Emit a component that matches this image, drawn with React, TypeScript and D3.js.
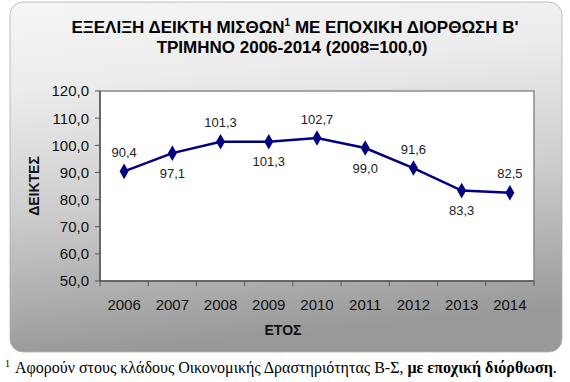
import React from "react";
import * as d3 from "d3";

const years = ["2006", "2007", "2008", "2009", "2010", "2011", "2012", "2013", "2014"];
const values = [90.4, 97.1, 101.3, 101.3, 102.7, 99.0, 91.6, 83.3, 82.5];
const labelAbove = [true, false, true, false, true, false, true, false, true];
const yTicks = [50, 60, 70, 80, 90, 100, 110, 120];

const W = 570;
const H = 382;
const plot = { left: 100, top: 91, right: 534, bottom: 281 };

export default function App() {
  const x = d3.scaleBand<string>().domain(years).range([plot.left, plot.right]).padding(0);
  const y = d3.scaleLinear().domain([50, 120]).range([plot.bottom, plot.top]);
  const cx = (d: string) => (x(d) as number) + x.bandwidth() / 2;
  const line = d3
    .line<number>()
    .x((_, i) => cx(years[i]))
    .y((v) => y(v));
  const diamond = d3.symbol().type(d3.symbolDiamond).size(70)() as string;
  const fmt = (v: number) => v.toFixed(1).replace(".", ",");
  const boundaries = years.map((d) => x(d) as number).concat([plot.right]);

  return (
    <svg
      width={W}
      height={H}
      style={{ position: "absolute", left: 0, top: 0, background: "#fff" }}
      fontFamily="Liberation Sans, Arial, sans-serif"
    >
      <defs>
        <linearGradient id="bg" x1="0" y1="0" x2="0.15" y2="1">
          <stop offset="0" stopColor="#f5f5f5" />
          <stop offset="0.25" stopColor="#ececec" />
          <stop offset="0.6" stopColor="#cdcdcd" />
          <stop offset="1" stopColor="#999999" />
        </linearGradient>
      </defs>
      <rect x={10} y={2} width={552} height={350} rx={13} ry={13} fill="url(#bg)" stroke="#b0b0b0" strokeWidth={0.8} />
      <text x={295} y={33} textAnchor="middle" fontSize={17} fontWeight="bold" fill="#000">
        ΕΞΕΛΙΞΗ ΔΕΙΚΤΗ ΜΙΣΘΩΝ<tspan fontSize={10} dy={-7}>1</tspan>
        <tspan dy={7}> ΜΕ ΕΠΟΧΙΚΗ ΔΙΟΡΘΩΣΗ  Β'</tspan>
      </text>
      <text x={292} y={53} textAnchor="middle" fontSize={17} fontWeight="bold" fill="#000">
        ΤΡΙΜΗΝΟ 2006-2014 (2008=100,0)
      </text>

      <rect
        x={plot.left}
        y={plot.top}
        width={plot.right - plot.left}
        height={plot.bottom - plot.top}
        fill="#fff"
        stroke="#8a8a8a"
        strokeWidth={1.5}
      />
      <line x1={plot.left} x2={plot.left} y1={plot.top} y2={plot.bottom} stroke="#555" strokeWidth={1.5} />
      <line x1={plot.left} x2={plot.right} y1={plot.bottom} y2={plot.bottom} stroke="#555" strokeWidth={1.5} />

      {yTicks.map((t) => (
        <g key={t}>
          <line x1={plot.left - 5} x2={plot.left} y1={y(t)} y2={y(t)} stroke="#555" strokeWidth={1} />
          <text x={plot.left - 11} y={y(t)} dy="0.36em" textAnchor="end" fontSize={15} fill="#111">
            {fmt(t)}
          </text>
        </g>
      ))}
      {boundaries.map((b, i) => (
        <line key={i} x1={b} x2={b} y1={plot.bottom} y2={plot.bottom + 5} stroke="#555" strokeWidth={1} />
      ))}
      {years.map((d) => (
        <text key={d} x={cx(d)} y={305} dy="0.36em" textAnchor="middle" fontSize={15} fill="#111">
          {d}
        </text>
      ))}
      <text x={283} y={330} dy="0.36em" textAnchor="middle" fontSize={14} fontWeight="bold" fill="#111">
        ΕΤΟΣ
      </text>
      <text
        transform={`translate(34,${(plot.top + plot.bottom) / 2}) rotate(-90)`}
        dy="0.36em"
        textAnchor="middle"
        fontSize={14}
        fontWeight="bold"
        fill="#111"
      >
        ΔΕΙΚΤΕΣ
      </text>

      <path d={line(values) as string} fill="none" stroke="#000080" strokeWidth={2.5} />
      {values.map((v, i) => (
        <path key={i} d={diamond} transform={`translate(${cx(years[i])},${y(v)})`} fill="#000080" />
      ))}
      {values.map((v, i) => (
        <text
          key={"l" + i}
          x={cx(years[i])}
          y={y(v) + (labelAbove[i] ? -19 : 20)}
          dy="0.36em"
          textAnchor="middle"
          fontSize={13}
          fill="#222"
        >
          {fmt(v)}
        </text>
      ))}

      <text x={5} y={373} fontFamily="Liberation Serif, Times New Roman, serif" fontSize={16} fill="#000">
        <tspan fontSize={10} dy={-6}>1</tspan>
        <tspan dy={6} dx={5}>Αφορούν στους κλάδους Οικονομικής Δραστηριότητας Β-Σ, </tspan>
        <tspan fontWeight="bold">με εποχική διόρθωση</tspan>
        <tspan>.</tspan>
      </text>
    </svg>
  );
}
